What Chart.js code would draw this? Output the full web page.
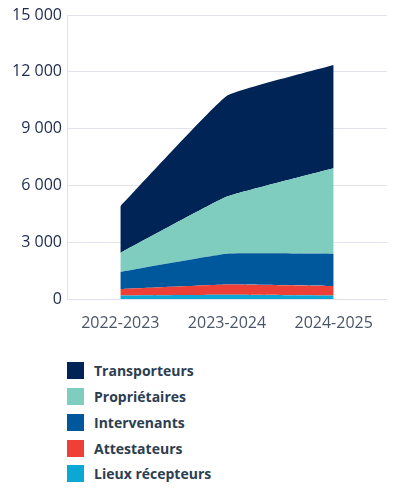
<!DOCTYPE html>
<html lang="fr">
<head>
<meta charset="utf-8">
<script src="https://cdn.jsdelivr.net/npm/chart.js@4/dist/chart.umd.min.js"></script>
<style>
  body { margin: 0; background: #fff; font-family: "Open Sans", sans-serif; }
  #wrap { position: relative; width: 394px; height: 492px; }
  #box { position: absolute; left: 0; top: 0; width: 394px; height: 340px; }
  #legend { position: absolute; left: 67px; top: 358px; }
  .item { display: flex; align-items: center; height: 25.75px; }
  .sw { width: 17px; height: 17px; margin-right: 10px; }
  .lbl { font-weight: 700; font-size: 14px; color: #2c3e50; }
</style>
</head>
<body>
<div id="wrap">
  <div id="box"><canvas id="chart"></canvas></div>
  <div id="legend"></div>
</div>
<script>
const categories = ["2022-2023", "2023-2024", "2024-2025"];
const seriesNames = ["Lieux récepteurs", "Attestateurs", "Intervenants", "Propriétaires", "Transporteurs"];
const lieux = [190, 230, 190];
const attestateurs = [340, 540, 500];
const intervenants = [900, 1620, 1700];
const proprietaires = [1000, 3020, 4520];
const transporteurs = [2460, 5320, 5450];
const yTicks = [0, 3000, 6000, 9000, 12000, 15000];
const colors = ["#0aa8d3", "#ee4037", "#00589c", "#7fcdbf", "#012456"];

const values = [lieux, attestateurs, intervenants, proprietaires, transporteurs];

const datasets = values.map((v, i) => ({
  label: seriesNames[i],
  data: v,
  backgroundColor: colors[i],
  borderColor: colors[i],
  borderWidth: 0,
  pointRadius: 0,
  tension: 0.1,
  fill: i === 0 ? "origin" : "-1"
}));

const fmt = (n) => String(n).replace(/\B(?=(\d{3})+(?!\d))/g, "\u00a0");

new Chart(document.getElementById("chart"), {
  type: "line",
  data: { labels: categories, datasets: datasets },
  options: {
    responsive: true,
    maintainAspectRatio: false,
    animation: false,
    layout: { padding: { top: 15, right: 7, left: 0, bottom: 0 } },
    plugins: {
      legend: { display: false },
      tooltip: { enabled: false }
    },
    scales: {
      x: {
        offset: true,
        grid: { display: false },
        border: { display: false },
        ticks: {
          color: "#4a5568",
          font: { family: "Open Sans", size: 16 },
          padding: 7
        },
        afterFit: (s) => { s.height = 41; }
      },
      y: {
        stacked: true,
        min: 0,
        max: 15000,
        afterBuildTicks: (s) => { s.ticks = yTicks.map(v => ({ value: v })); },
        grid: { color: "#e1e2ee", drawTicks: false },
        border: { color: "#e1e2ee" },
        ticks: {
          color: "#1b2a4e",
          font: { family: "Open Sans", size: 16 },
          padding: 5,
          callback: (v) => fmt(v)
        },
        afterFit: (s) => { s.width = 67; }
      }
    }
  }
});

// légende maison, une ligne par série, ordre inversé
const legend = document.getElementById("legend");
for (let i = seriesNames.length - 1; i >= 0; i--) {
  const row = document.createElement("div");
  row.className = "item";
  row.innerHTML = `<span class="sw" style="background:${colors[i]}"></span><span class="lbl">${seriesNames[i]}</span>`;
  legend.appendChild(row);
}
</script>
</body>
</html>
